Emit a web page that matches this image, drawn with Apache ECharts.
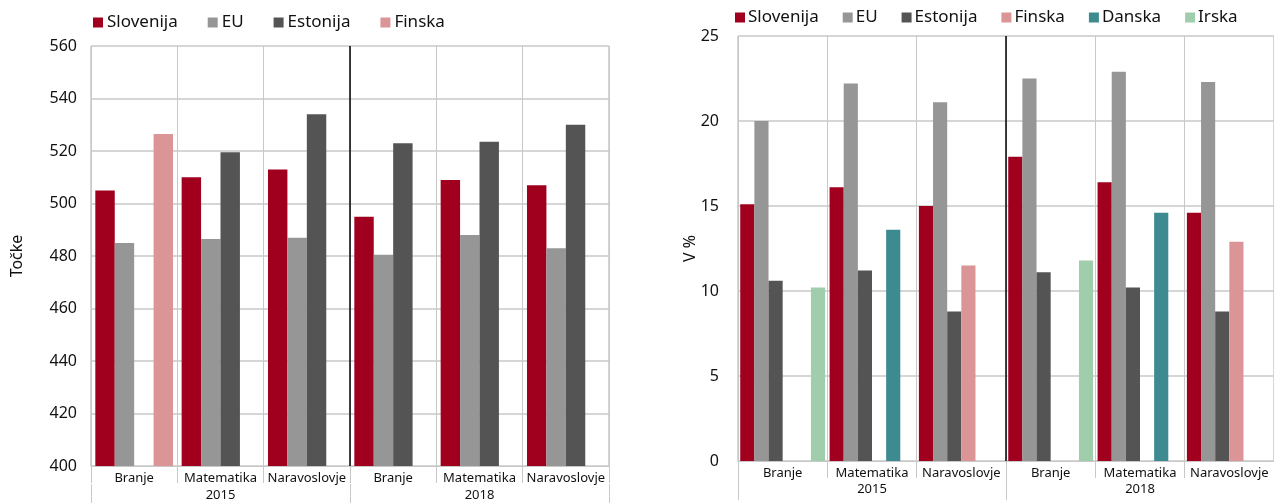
<!DOCTYPE html>
<html>
<head>
<meta charset="utf-8">
<script src="https://cdn.jsdelivr.net/npm/echarts@6/dist/echarts.min.js"></script>
<style>
    html, body { margin: 0; padding: 0; background: #fff; }
    #chart { width: 1274px; height: 503px; }
</style>
</head>
<body>
<div id="chart"></div>
<script>
// kategorije (obe sliki enake)
const subjects = ['Branje', 'Matematika', 'Naravoslovje', 'Branje', 'Matematika', 'Naravoslovje'];
const years = ['2015', '2018'];

// levo: povprečni dosežki (točke)
const pointsSlovenija = [505, 510, 513, 495, 509, 507];
const pointsEU = [485, 486.5, 487, 480.5, 488, 483];
const pointsEstonija = [null, 519.5, 534, 523, 523.5, 530];
const pointsFinska = [526.5, null, null, null, null, null];

// desno: delež (V %)
const shareSlovenija = [15.1, 16.1, 15.0, 17.9, 16.4, 14.6];
const shareEU = [20.0, 22.2, 21.1, 22.5, 22.9, 22.3];
const shareEstonija = [10.6, 11.2, 8.8, 11.1, 10.2, 8.8];
const shareFinska = [null, null, 11.5, null, null, 12.9];
const shareDanska = [null, 13.6, null, null, 14.6, null];
const shareIrska = [10.2, null, null, 11.8, null, null];

const colors = {
    Slovenija: '#a0001e',
    EU: '#969696',
    Estonija: '#545454',
    Finska: '#db9596',
    Danska: '#3e8a91',
    Irska: '#a0cdab'
};

const fontFamily = '"Noto Sans", "Open Sans", sans-serif';
const gridColor = '#c8c8c8';

function catAxis(gridIndex) {
    return {
        type: 'category', gridIndex: gridIndex, data: subjects, position: 'bottom',
        axisLine: { show: true, lineStyle: { color: gridColor } },
        axisTick: { show: true, length: 17, lineStyle: { color: gridColor } },
        axisLabel: { color: '#111', fontSize: 13, margin: 6, fontFamily: fontFamily, interval: 0 },
        splitLine: { show: true, lineStyle: { color: gridColor, width: 1 } }
    };
}

function yearAxis(gridIndex, offset) {
    return {
        type: 'category', gridIndex: gridIndex, data: years, position: 'bottom', offset: offset,
        axisLine: { show: false },
        axisTick: { show: true, length: 22, lineStyle: { color: gridColor } },
        axisLabel: { color: '#111', fontSize: 13, margin: 5, fontFamily: fontFamily },
        splitLine: { show: true, lineStyle: { color: [gridColor, '#000000', gridColor], width: 1.5 } }
    };
}

function valAxis(gridIndex, min, max, interval, name, nameGap, margin) {
    return {
        type: 'value', gridIndex: gridIndex, min: min, max: max, interval: interval,
        name: name, nameLocation: 'middle', nameGap: nameGap, nameRotate: 90,
        nameMoveOverlap: false,
        nameTextStyle: { color: '#111', fontSize: 16, fontFamily: fontFamily },
        axisLine: { show: false },
        axisTick: { show: false },
        axisLabel: { color: '#111', fontSize: 16, margin: margin, fontFamily: fontFamily },
        splitLine: { show: true, lineStyle: { color: gridColor, width: 1.5 } }
    };
}

function bar(name, data, xi, yi, gap) {
    return {
        name: name, type: 'bar', data: data, xAxisIndex: xi, yAxisIndex: yi,
        barGap: '0%', barCategoryGap: gap,
        itemStyle: { color: colors[name] },
        emphasis: { disabled: true },
        z: 3
    };
}

let chart = echarts.init(document.getElementById('chart'));
chart.setOption({
    animation: false,
    textStyle: { fontFamily: fontFamily },
    legend: [
        {
            left: 88, top: 9, itemWidth: 10, itemHeight: 10, itemGap: 30, icon: 'rect',
            textStyle: { fontSize: 17, color: '#111', padding: [0, 0, 0, -1] },
            data: ['Slovenija', 'EU', 'Estonija', 'Finska']
        },
        {
            left: 730, top: 4, width: 560, itemWidth: 10, itemHeight: 10, itemGap: 24, icon: 'rect',
            textStyle: { fontSize: 17, color: '#111', padding: [0, 0, 0, -2] },
            data: ['Slovenija', 'EU', 'Estonija', 'Finska', 'Danska', 'Irska']
        }
    ],
    grid: [
        { left: 91, top: 46, width: 518, height: 420 },
        { left: 738, top: 36, width: 540, height: 425 }
    ],
    xAxis: [catAxis(0), yearAxis(0, 18), catAxis(1), yearAxis(1, 17)],
    yAxis: [
        valAxis(0, 400, 560, 20, 'Točke', 66, 14),
        valAxis(1, 0, 25, 5, 'V %', 40, 19)
    ],
    series: [
        bar('Slovenija', pointsSlovenija, 0, 0, '10%'),
        bar('EU', pointsEU, 0, 0, '10%'),
        bar('Estonija', pointsEstonija, 0, 0, '10%'),
        bar('Finska', pointsFinska, 0, 0, '10%'),
        bar('Slovenija', shareSlovenija, 2, 1, '5%'),
        bar('EU', shareEU, 2, 1, '5%'),
        bar('Estonija', shareEstonija, 2, 1, '5%'),
        bar('Finska', shareFinska, 2, 1, '5%'),
        bar('Danska', shareDanska, 2, 1, '5%'),
        bar('Irska', shareIrska, 2, 1, '5%')
    ]
});
</script>
</body>
</html>
